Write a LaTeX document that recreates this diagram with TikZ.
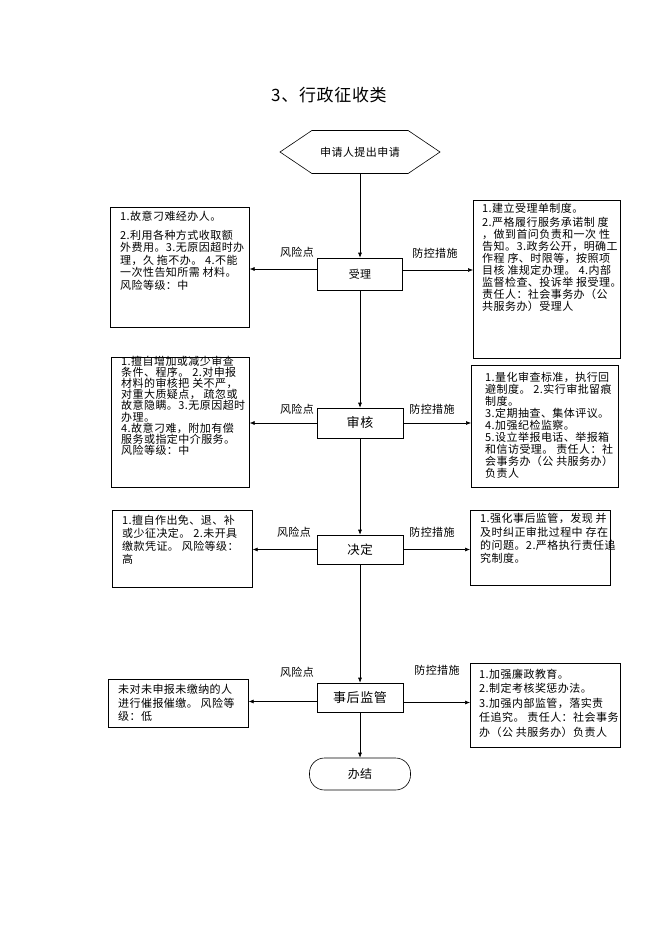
\documentclass[tikz,border=0pt]{standalone}
\usepackage{fontspec}
\setmainfont{Noto Sans CJK SC}[LetterSpace=4]
\usetikzlibrary{arrows.meta,shapes.symbols}

\tikzset{
  flowbox/.style={draw, line width=0.6pt, minimum width=86pt, minimum height=30pt, inner sep=0pt},
  sidebox/.style={draw, line width=0.6pt, anchor=north west, inner sep=0pt},
  sidetext/.style={anchor=north west, inner sep=0pt, align=left},
  tag/.style={font=\fontsize{11}{13}\selectfont, inner sep=0pt},
  arr/.style={-{Latex[length=5pt,width=4pt]}, line width=0.6pt}
}

\begin{document}
\begin{tikzpicture}[x=1pt,y=-1pt]
\useasboundingbox (0,0) rectangle (662,936);

\node[font=\fontsize{17}{20}\selectfont] (title) at (329,95) {3、行政征收类};

% main flow
\node[draw, line width=0.6pt, signal, signal to=west and east, signal pointer angle=68,
      minimum width=160pt, minimum height=43pt, inner sep=0pt,
      font=\fontsize{11}{13}\selectfont] (start) at (360,152) {申请人提出申请};
\node[flowbox, minimum width=85pt, minimum height=32pt, font=\fontsize{11}{13}\selectfont] (shouli) at (360,274) {受理};
\node[flowbox, font=\fontsize{13}{15}\selectfont] (shenhe) at (360,423) {审核};
\node[flowbox, minimum height=29pt, font=\fontsize{12.5}{15}\selectfont] (jueding) at (360,549.5) {决定};
\node[flowbox, minimum height=29pt, font=\fontsize{13}{15}\selectfont] (jianguan) at (360,697.5) {事后监管};
\node[flowbox, minimum width=101pt, minimum height=32pt, rounded corners=15pt,
      font=\fontsize{12}{14}\selectfont] (banjie) at (360,774) {办结};

% risk boxes (left)
\node[sidebox, minimum width=139pt, minimum height=120pt] (fx1) at (110,207) {};
\node[sidetext, font=\fontsize{11}{12.5}\selectfont] (fx1t) at (120,210.5) {%
1.故意刁难经办人。\\[6.5pt]
2.利用各种方式收取额\\
外费用。3.无原因超时办\\
理，久 拖不办。 4.不能\\
一次性告知所需 材料。\\
风险等级：中};

\node[sidebox, minimum width=138pt, minimum height=130pt] (fx2) at (111,357) {};
\node[sidetext, font=\fontsize{11}{11.2}\selectfont] (fx2t) at (121,355.5) {%
1.擅自增加或减少审查\\
条件、程序。 2.对申报\\
材料的审核把 关不严，\\
对重大质疑点， 疏忽或\\
故意隐瞒。3.无原因超时\\
办理。\\
4.故意刁难，附加有偿\\
服务或指定中介服务。\\
风险等级：中};

\node[sidebox, minimum width=140pt, minimum height=77pt] (fx3) at (112,510) {};
\node[sidetext, font=\fontsize{11}{13.3}\selectfont] (fx3t) at (122,514.5) {%
1.擅自作出免、退、补\\
或少征决定。 2.未开具\\
缴款凭证。 风险等级：\\
高};

\node[sidebox, minimum width=140pt, minimum height=48pt] (fx4) at (108,679) {};
\node[sidetext, font=\fontsize{11}{13.5}\selectfont] (fx4t) at (118,684.5) {%
未对未申报未缴纳的人\\
进行催报催缴。 风险等\\
级：低};

% control boxes (right)
\node[sidebox, minimum width=147pt, minimum height=158pt] (fk1) at (473,200) {};
\node[sidetext, font=\fontsize{11}{12}\selectfont] (fk1t) at (482,202.5) {%
1.建立受理单制度。\\[2pt]
2.严格履行服务承诺制 度\\
，做到首问负责和一次 性\\
告知。3.政务公开，明确工\\
作程 序、时限等，按照项\\
目核 准规定办理。 4.内部\\
监督检查、投诉举 报受理。\\
责任人：社会事务办（公\\
共服务办）受理人};

\node[sidebox, minimum width=147pt, minimum height=122pt] (fk2) at (471,365) {};
\node[sidetext, font=\fontsize{11}{12}\selectfont] (fk2t) at (485,371.5) {%
1.量化审查标准，执行回\\
避制度。 2.实行审批留痕\\
制度。\\
3.定期抽查、集体评议。\\
4.加强纪检监察。\\
5.设立举报电话、举报箱\\
和信访受理。 责任人：社\\
会事务办（公 共服务办）\\
负责人};

\node[sidebox, minimum width=140pt, minimum height=75pt] (fk3) at (470,510) {};
\node[sidetext, font=\fontsize{11}{13.3}\selectfont] (fk3t) at (480,513.5) {%
1.强化事后监管，发现 并\\
及时纠正审批过程中 存在\\
的问题。2.严格执行责任追\\
究制度。};

\node[sidebox, minimum width=150pt, minimum height=84pt] (fk4) at (470,663) {};
\node[sidetext, font=\fontsize{11}{14.5}\selectfont] (fk4t) at (479,668.5) {%
1.加强廉政教育。\\
2.制定考核奖惩办法。\\
3.加强内部监管，落实责\\
任追究。 责任人：社会事务\\
办（公 共服务办）负责人};

% labels
\node[tag] (fxl1) at (297,252) {风险点};
\node[tag] (fkl1) at (435,253) {防控措施};
\node[tag] (fxl2) at (297,409) {风险点};
\node[tag] (fkl2) at (432,409) {防控措施};
\node[tag] (fxl3) at (294,532) {风险点};
\node[tag] (fkl3) at (432,532) {防控措施};
\node[tag] (fxl4) at (297,672) {风险点};
\node[tag] (fkl4) at (437,670) {防控措施};

% connectors
\draw[arr] (start.south) -- (shouli.north);
\draw[arr] (shouli.south) -- (shenhe.north);
\draw[arr] (shenhe.south) -- (jueding.north);
\draw[arr] (jueding.south) -- (jianguan.north);
\draw[arr] (jianguan.south) -- (banjie.north);

\draw[arr] ([yshift=5pt]shouli.west) -- ([yshift=5pt]shouli.west -| fx1.east);
\draw[arr] ([yshift=4pt]shouli.east) -- ([yshift=4pt]shouli.east -| fk1.west);
\draw[arr] (shenhe.west) -- (shenhe.west -| fx2.east);
\draw[arr] (shenhe.east) -- (shenhe.east -| fk2.west);
\draw[arr] (jueding.west) -- (jueding.west -| fx3.east);
\draw[arr] (jueding.east) -- (jueding.east -| fk3.west);
\draw[arr] ([yshift=-4pt]jianguan.west) -- ([yshift=-4pt]jianguan.west -| fx4.east);
\draw[arr] ([yshift=-5pt]jianguan.east) -- ([yshift=-5pt]jianguan.east -| fk4.west);
\end{tikzpicture}
\end{document}
